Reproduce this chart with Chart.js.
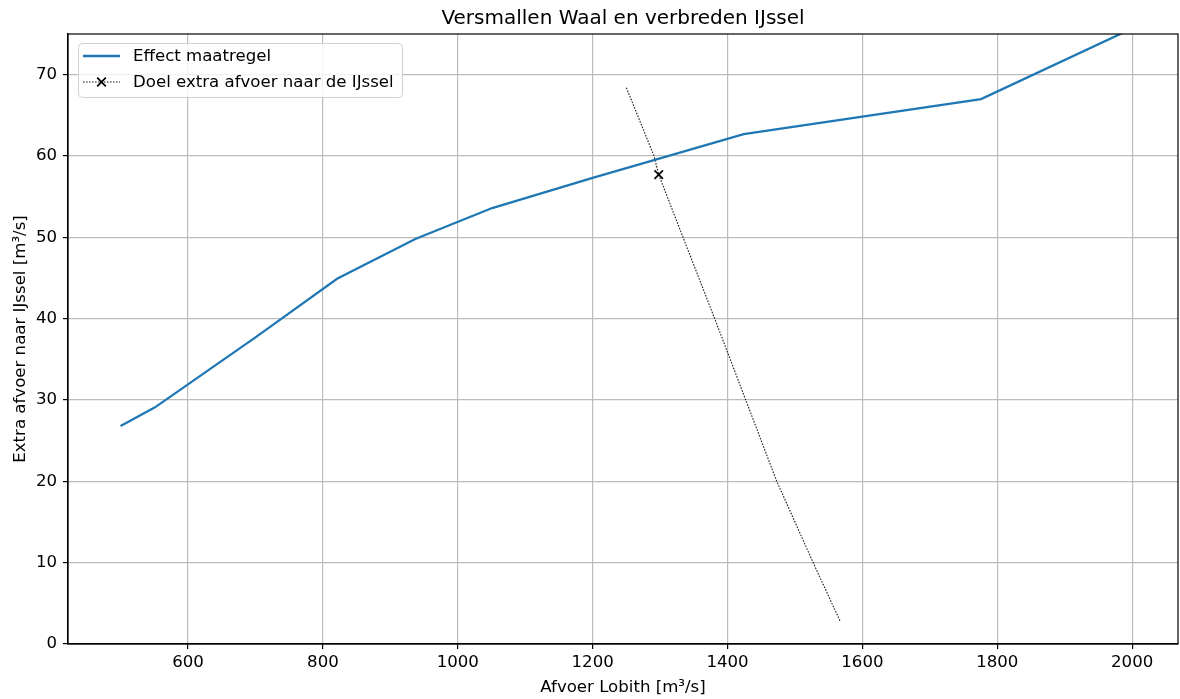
<!DOCTYPE html>
<html>
<head>
<meta charset="utf-8">
<title>Versmallen Waal en verbreden IJssel</title>
<script src="https://cdn.jsdelivr.net/npm/chart.js@4.4.1/dist/chart.umd.min.js"></script>
<style>
  html, body { margin: 0; padding: 0; background: #fff; }
  #wrap { width: 1180px; height: 699px; }
</style>
</head>
<body>
<div id="wrap"><canvas id="c" width="1180" height="699"></canvas></div>
<script>
// Effect of the measure: extra IJssel discharge against Lobith discharge
const effectX = [500, 551, 700, 821, 937, 1051, 1200, 1424, 1776, 1985];
const effectY = [26.8, 29.1, 37.7, 44.9, 49.8, 53.6, 57.3, 62.7, 67.0, 75.1];

// Target curve for the extra IJssel discharge
const doelX = [1250, 1291, 1298, 1334, 1381, 1427, 1473, 1527, 1567];
const doelY = [68.4, 60.0, 57.7, 50.0, 40.0, 30.0, 20.0, 10.0, 2.8];
const doelMarkerIndex = 2;

// Axis ticks
const xTicks = [600, 800, 1000, 1200, 1400, 1600, 1800, 2000];
const yTicks = [0, 10, 20, 30, 40, 50, 60, 70];

const seriesLabels = ['Effect maatregel', 'Doel extra afvoer naar de IJssel'];

const FONT = '"DejaVu Sans", "Liberation Sans", sans-serif';
const BASE = 16.6;
Chart.defaults.font.family = FONT;
Chart.defaults.color = '#000';

const toPoints = (xs, ys) => xs.map((x, i) => ({ x: x, y: ys[i] }));

// Full box around the plot area, like axis spines
const framePlugin = {
  id: 'frame',
  afterDraw(chart) {
    const { ctx, chartArea: a } = chart;
    ctx.save();
    ctx.strokeStyle = '#000';
    ctx.lineWidth = 1.2;
    ctx.strokeRect(a.left, a.top, a.right - a.left, a.bottom - a.top);
    ctx.restore();
  }
};

// Legend box in the upper-left corner with line samples
const legendPlugin = {
  id: 'lineLegend',
  afterDraw(chart) {
    const { ctx } = chart;
    const ds = chart.data.datasets;
    const x0 = 78, y0 = 43, w = 324, h = 54, r = 4;
    ctx.save();
    ctx.beginPath();
    ctx.roundRect(x0 + 0.5, y0 + 0.5, w, h, r);
    ctx.fillStyle = 'rgba(255,255,255,0.8)';
    ctx.fill();
    ctx.strokeStyle = '#d0d0d0';
    ctx.lineWidth = 1;
    ctx.stroke();

    const rows = [56, 82];
    const lx1 = 83, lx2 = 120, tx = 133;
    ctx.font = BASE + 'px ' + FONT;
    ctx.textBaseline = 'middle';
    ctx.fillStyle = '#000';

    // Row 1: solid blue line
    ctx.beginPath();
    ctx.strokeStyle = ds[0].borderColor;
    ctx.lineWidth = ds[0].borderWidth;
    ctx.setLineDash([]);
    ctx.moveTo(lx1, rows[0]); ctx.lineTo(lx2, rows[0]);
    ctx.stroke();
    ctx.fillText(ds[0].label, tx, rows[0] + 1);

    // Row 2: dotted line with x marker
    ctx.beginPath();
    ctx.strokeStyle = ds[1].borderColor;
    ctx.lineWidth = ds[1].borderWidth;
    ctx.setLineDash(ds[1].borderDash);
    ctx.moveTo(lx1, rows[1]); ctx.lineTo(lx2, rows[1]);
    ctx.stroke();
    ctx.setLineDash([]);
    const mx = (lx1 + lx2) / 2, m = 4.3;
    ctx.beginPath();
    ctx.strokeStyle = '#000';
    ctx.lineWidth = 1.7;
    ctx.moveTo(mx - m, rows[1] - m); ctx.lineTo(mx + m, rows[1] + m);
    ctx.moveTo(mx - m, rows[1] + m); ctx.lineTo(mx + m, rows[1] - m);
    ctx.stroke();
    ctx.fillText(ds[1].label, tx, rows[1] + 1);
    ctx.restore();
  }
};

new Chart(document.getElementById('c'), {
  type: 'line',
  data: {
    datasets: [
      {
        label: seriesLabels[0],
        data: toPoints(effectX, effectY),
        borderColor: '#1f77b4',
        borderWidth: 2.3,
        pointRadius: 0,
        pointHoverRadius: 0,
        tension: 0,
        fill: false
      },
      {
        label: seriesLabels[1],
        data: toPoints(doelX, doelY),
        borderColor: '#1a1a1a',
        borderWidth: 1.1,
        borderDash: [1.6, 1.4],
        pointStyle: 'crossRot',
        pointRadius: doelX.map((_, i) => i === doelMarkerIndex ? 6 : 0),
        pointBorderColor: '#000',
        pointBorderWidth: 1.7,
        pointHoverRadius: 0,
        tension: 0,
        fill: false
      }
    ]
  },
  options: {
    responsive: false,
    animation: false,
    events: [],
    layout: { padding: { left: 0, right: 2, top: 0, bottom: 0 } },
    plugins: {
      legend: { display: false },
      tooltip: { enabled: false },
      title: {
        display: true,
        fullSize: false,
        text: 'Versmallen Waal en verbreden IJssel',
        color: '#000',
        font: { size: 20, weight: 'normal' },
        padding: { top: 7, bottom: 3 }
      }
    },
    scales: {
      x: {
        type: 'linear',
        min: 422,
        max: 2068,
        afterFit(scale) { scale.height = 55; },
        afterBuildTicks(scale) { scale.ticks = xTicks.map(v => ({ value: v })); },
        ticks: {
          font: { size: BASE }, color: '#000', padding: 4, maxRotation: 0, autoSkip: false,
          callback: v => String(v)
        },
        grid: { color: '#bcbcbc', lineWidth: 1.2, tickColor: '#000', tickLength: 5, drawTicks: true },
        border: { display: true, color: '#000', width: 1.2 },
        title: {
          display: true,
          text: 'Afvoer Lobith [m³/s]',
          color: '#000',
          font: { size: BASE },
          padding: { top: 0, bottom: 1 }
        }
      },
      y: {
        type: 'linear',
        min: 0,
        max: 75,
        afterFit(scale) { scale.width = 68; },
        afterBuildTicks(scale) { scale.ticks = yTicks.map(v => ({ value: v })); },
        ticks: { font: { size: BASE }, color: '#000', padding: 6, callback: v => String(v) },
        grid: { color: '#bcbcbc', lineWidth: 1.2, tickColor: '#000', tickLength: 5, drawTicks: true },
        border: { display: true, color: '#000', width: 1.2 },
        title: {
          display: true,
          text: 'Extra afvoer naar IJssel [m³/s]',
          color: '#000',
          font: { size: BASE },
          padding: { top: 11, bottom: 0 }
        }
      }
    }
  },
  plugins: [framePlugin, legendPlugin]
});
</script>
</body>
</html>
